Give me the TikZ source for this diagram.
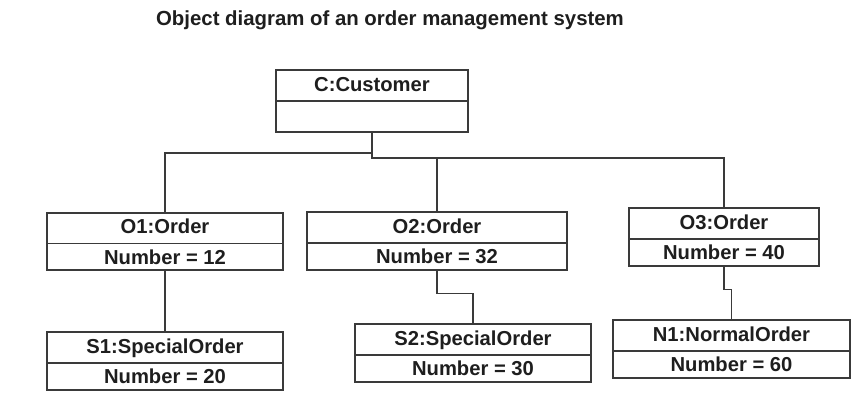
\documentclass[tikz,border=0pt]{standalone}
\usepackage{fontspec}
\setmainfont{Liberation Sans}
\definecolor{objline}{HTML}{3A3A3A}
\definecolor{objtext}{HTML}{1E1E1E}
\usetikzlibrary{shapes,positioning,calc}

\begin{document}
\begin{tikzpicture}[x=0.02cm, y=-0.02cm,
  obj/.style={draw=objline, line width=1pt, rectangle split, rectangle split parts=2,
    font=\fontsize{11.5}{13}\selectfont\bfseries, text=objtext,
    text height=0.3cm, text depth=0.08cm, inner ysep=0.1cm, inner xsep=0pt,
    rectangle split empty part height=0.3cm, rectangle split empty part depth=0.08cm},
  link/.style={draw=objline, line width=1pt}]
\useasboundingbox (0,0) rectangle (866,403);

\node[font=\fontsize{11.6}{13}\selectfont\bfseries, text=objtext] (title) at (390,20) {Object diagram of an order management system};

\node[obj, minimum width=3.84cm] (C) at (372,101) {C:Customer \nodepart{two}};

\node[obj, minimum width=4.72cm] (O1) at (165,241.5) {O1:Order \nodepart{two} Number = 12};
\node[obj, minimum width=5.2cm] (O2) at (437,241) {O2:Order \nodepart{two} Number = 32};
\node[obj, minimum width=3.8cm] (O3) at (724,237) {O3:Order \nodepart{two} Number = 40};

\node[obj, minimum width=4.72cm] (S1) at (165,361) {S1:SpecialOrder \nodepart{two} Number = 20};
\node[obj, minimum width=4.72cm] (S2) at (473,353) {S2:SpecialOrder \nodepart{two} Number = 30};
\node[obj, minimum width=4.74cm] (N1) at (731.5,349) {N1:NormalOrder \nodepart{two} Number = 60};

\draw[link] (C.south) -- ++(0,20) -| (O1.north);
\draw[link] (C.south) -- ++(0,25) -| (O2.north);
\draw[link] (C.south) -- ++(0,25) -| (O3.north);

\draw[link] (O1.south) -- (S1.north);
\draw[link] (O2.south) -- ++(0,23) -| (S2.north);
\draw[link] (O3.south) -- ++(0,23) -| (N1.north);

\end{tikzpicture}
\end{document}
